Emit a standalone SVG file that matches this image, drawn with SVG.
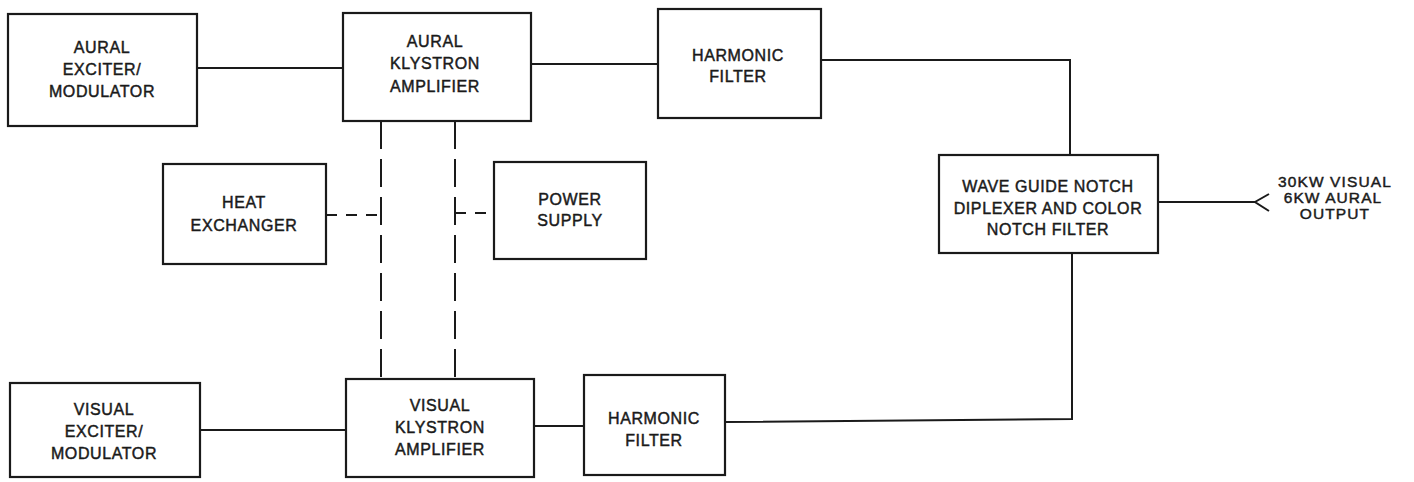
<svg xmlns="http://www.w3.org/2000/svg" width="1414" height="482" viewBox="0 0 1414 482">
<style>
.box{fill:#fff;stroke:#1a1a1a;stroke-width:2.2}
.t{font-family:"Liberation Sans",Arial,sans-serif;font-size:16px;fill:#1a1a1a;stroke:#1a1a1a;stroke-width:0.45;text-anchor:middle;letter-spacing:0.6px}
.s{font-size:15.5px;letter-spacing:1.1px}
.c{fill:none;stroke:#1a1a1a;stroke-width:2}
.dv{fill:none;stroke:#1a1a1a;stroke-width:2;stroke-dasharray:28 10}
.dh{fill:none;stroke:#1a1a1a;stroke-width:1.8;stroke-dasharray:11 9}
</style>
<rect width="1414" height="482" fill="#fff"/>
<g id="connectors">
<line class="c" x1="197" y1="68" x2="343" y2="68"/>
<line class="c" x1="531" y1="64" x2="658" y2="64"/>
<polyline class="c" points="821,60 1070,60 1070,155"/>
<polyline class="c" points="1072,253 1072,419 725,422"/>
<line class="c" x1="534" y1="426" x2="584" y2="426"/>
<line class="c" x1="200" y1="430" x2="346" y2="430"/>
<line class="c" x1="1158" y1="202" x2="1255" y2="202"/>
<polyline class="c" points="1269,194 1255,202 1269,211"/>
<line class="dv" x1="381" y1="121" x2="381" y2="379"/>
<line class="dv" x1="455" y1="121" x2="455" y2="379"/>
<line class="dh" x1="326" y1="215" x2="381" y2="215"/>
<line class="dh" x1="455" y1="213" x2="494" y2="213"/>
</g>
<g id="aural-exciter">
<rect class="box" x="8" y="14" width="189" height="112"/>
<text class="t" x="102" y="53">AURAL</text>
<text class="t" x="102" y="75">EXCITER/</text>
<text class="t" x="102" y="97">MODULATOR</text>
</g>
<g id="aural-klystron">
<rect class="box" x="343" y="13" width="188" height="108"/>
<text class="t" x="435" y="47">AURAL</text>
<text class="t" x="435" y="69">KLYSTRON</text>
<text class="t" x="435" y="92">AMPLIFIER</text>
</g>
<g id="harmonic-filter-top">
<rect class="box" x="658" y="9" width="163" height="109"/>
<text class="t" x="738" y="61">HARMONIC</text>
<text class="t" x="738" y="82">FILTER</text>
</g>
<g id="heat-exchanger">
<rect class="box" x="163" y="164" width="163" height="100"/>
<text class="t" x="244" y="208">HEAT</text>
<text class="t" x="244" y="231">EXCHANGER</text>
</g>
<g id="power-supply">
<rect class="box" x="494" y="162" width="152" height="97"/>
<text class="t" x="570" y="205">POWER</text>
<text class="t" x="570" y="226">SUPPLY</text>
</g>
<g id="wave-guide">
<rect class="box" x="939" y="155" width="219" height="98"/>
<text class="t" x="1048" y="192">WAVE GUIDE NOTCH</text>
<text class="t" x="1048" y="214">DIPLEXER AND COLOR</text>
<text class="t" x="1048" y="235">NOTCH FILTER</text>
</g>
<g id="output-label">
<text class="t s" x="1335" y="187">30KW VISUAL</text>
<text class="t s" x="1333" y="203">6KW AURAL</text>
<text class="t s" x="1335" y="219">OUTPUT</text>
</g>
<g id="visual-exciter">
<rect class="box" x="10" y="383" width="190" height="94"/>
<text class="t" x="104" y="415">VISUAL</text>
<text class="t" x="104" y="437">EXCITER/</text>
<text class="t" x="104" y="459">MODULATOR</text>
</g>
<g id="visual-klystron">
<rect class="box" x="346" y="379" width="188" height="98"/>
<text class="t" x="440" y="411">VISUAL</text>
<text class="t" x="440" y="433">KLYSTRON</text>
<text class="t" x="440" y="455">AMPLIFIER</text>
</g>
<g id="harmonic-filter-bottom">
<rect class="box" x="584" y="375" width="141" height="100"/>
<text class="t" x="654" y="424">HARMONIC</text>
<text class="t" x="654" y="446">FILTER</text>
</g>
</svg>
